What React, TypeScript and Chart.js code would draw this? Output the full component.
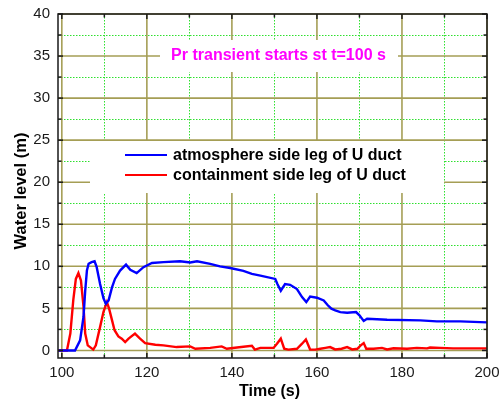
import React, { useEffect, useRef } from "react";
import { Chart, registerables } from "chart.js";

Chart.register(...registerables);

// atmosphere side leg of U duct (blue)
const atmTime = [99.2, 103.1, 104.3, 105.1, 105.5, 105.9, 106.3, 107.0, 107.7, 108.2, 109.0, 109.8, 110.35, 111.0, 111.8, 112.5, 113.7, 115.1, 116.1, 117.6, 119.2, 121.2, 123.9, 127.8, 130.2, 131.8, 134.9, 137.2, 139.6, 142.7, 144.7, 146.7, 150.2, 150.7, 151.5, 152.5, 153.7, 155.3, 156.5, 157.5, 158.4, 160.0, 161.6, 162.5, 163.4, 164.3, 165.5, 167.1, 169.2, 170.0, 171.0, 171.8, 176.5, 184.3, 188.2, 193.7, 200.0];
const atmLevel = [0, 0, 1.2, 4.0, 7.1, 9.5, 10.3, 10.5, 10.6, 9.9, 7.9, 6.2, 5.55, 5.95, 7.5, 8.5, 9.5, 10.2, 9.6, 9.2, 9.9, 10.4, 10.5, 10.6, 10.45, 10.6, 10.3, 10.0, 9.8, 9.45, 9.1, 8.9, 8.5, 7.9, 7.1, 7.9, 7.8, 7.3, 6.35, 5.75, 6.4, 6.27, 5.95, 5.4, 4.96, 4.76, 4.56, 4.48, 4.56, 4.17, 3.5, 3.77, 3.65, 3.57, 3.45, 3.45, 3.33];

// containment side leg of U duct (red)
const contTime = [99.2, 101.2, 102.0, 102.7, 103.3, 103.9, 104.5, 105.1, 105.5, 106.1, 107.4, 108.0, 109.0, 109.8, 110.6, 111.1, 111.8, 112.4, 113.3, 114.1, 114.9, 115.7, 117.2, 118.4, 119.6, 122.0, 123.9, 127.0, 130.2, 131.4, 134.9, 137.6, 138.8, 142.2, 144.7, 145.4, 146.7, 149.8, 150.6, 151.5, 152.3, 153.3, 155.3, 156.5, 157.4, 158.4, 159.6, 160.8, 162.0, 163.1, 164.3, 165.8, 167.1, 168.3, 169.5, 170.3, 171.0, 171.6, 173.3, 175.3, 176.5, 178.0, 181.2, 183.5, 185.9, 186.6, 189.0, 192.0, 196.0, 200.0];
const contLevel = [0, 0, 2.0, 6.0, 8.5, 9.2, 8.3, 5.2, 2.0, 0.6, 0.1, 0.6, 2.8, 4.6, 5.75, 5.0, 3.6, 2.4, 1.67, 1.4, 1.0, 1.4, 2.0, 1.4, 0.87, 0.68, 0.6, 0.4, 0.48, 0.2, 0.3, 0.48, 0.2, 0.4, 0.55, 0.1, 0.3, 0.3, 0.8, 1.4, 0.2, 0.1, 0.2, 0.8, 1.3, 0.1, 0.1, 0.2, 0.3, 0.4, 0.12, 0.2, 0.4, 0.12, 0.2, 0.6, 0.87, 0.2, 0.2, 0.3, 0.12, 0.25, 0.2, 0.3, 0.25, 0.35, 0.3, 0.25, 0.25, 0.25];

const xTickValues = [100, 110, 120, 130, 140, 150, 160, 170, 180, 190, 200];
const yTickValues = [0, 2.5, 5, 7.5, 10, 12.5, 15, 17.5, 20, 22.5, 25, 27.5, 30, 32.5, 35, 37.5, 40];

const seriesLabels = ["atmosphere side leg of U duct", "containment side leg of U duct"];
const seriesColors = ["#0000ff", "#ff0000"];
const annotationText = "Pr transient starts st t=100 s";
const xTitle = "Time (s)";
const yTitle = "Water level (m)";

const FONT = "'Liberation Sans', Arial, sans-serif";

const decorPlugin = {
  id: "decor",
  beforeDatasetsDraw(chart: any) {
    const { ctx, chartArea: a, scales } = chart;
    const x = scales.x, y = scales.y;
    ctx.save();
    // minor dotted grid
    ctx.strokeStyle = "#2ee02e";
    ctx.lineWidth = 1;
    ctx.setLineDash([1.5, 1.5]);
    x.ticks.forEach((t: any) => {
      if (t.value % 20 !== 0) {
        const px = Math.round(x.getPixelForValue(t.value)) + 0.5;
        ctx.beginPath(); ctx.moveTo(px, a.top); ctx.lineTo(px, a.bottom); ctx.stroke();
      }
    });
    y.ticks.forEach((t: any) => {
      if (t.value % 5 !== 0) {
        const py = Math.round(y.getPixelForValue(t.value)) + 0.5;
        ctx.beginPath(); ctx.moveTo(a.left, py); ctx.lineTo(a.right, py); ctx.stroke();
      }
    });
    // major olive grid
    ctx.setLineDash([]);
    ctx.strokeStyle = "#a59e55";
    ctx.lineWidth = 1.6;
    x.ticks.forEach((t: any) => {
      if (t.value % 20 === 0) {
        const px = x.getPixelForValue(t.value);
        ctx.beginPath(); ctx.moveTo(px, a.top); ctx.lineTo(px, a.bottom); ctx.stroke();
      }
    });
    y.ticks.forEach((t: any) => {
      if (t.value % 5 === 0) {
        const py = y.getPixelForValue(t.value);
        ctx.beginPath(); ctx.moveTo(a.left, py); ctx.lineTo(a.right, py); ctx.stroke();
      }
    });
    // white boxes behind annotation and legend
    ctx.fillStyle = "#ffffff";
    ctx.fillRect(a.left + 102, a.top + 26, 238, 32);
    ctx.fillRect(a.left + 32, a.top + 127, 354, 52);
    ctx.restore();
  },
  afterDatasetsDraw(chart: any) {
    const { ctx, chartArea: a, scales } = chart;
    const x = scales.x, y = scales.y;
    ctx.save();
    // annotation
    ctx.fillStyle = "#ff00ff";
    ctx.font = `bold 16px ${FONT}`;
    ctx.textAlign = "center";
    ctx.textBaseline = "middle";
    ctx.fillText(annotationText, a.left + 220.5, a.top + 42);
    // legend
    ctx.textAlign = "left";
    ctx.font = `bold 16px ${FONT}`;
    chart.data.datasets.forEach((ds: any, i: number) => {
      const ly = a.top + 141 + i * 20;
      ctx.strokeStyle = ds.borderColor;
      ctx.lineWidth = 2;
      ctx.beginPath(); ctx.moveTo(a.left + 67, ly); ctx.lineTo(a.left + 109, ly); ctx.stroke();
      ctx.fillStyle = "#000";
      ctx.fillText(ds.label, a.left + 115, ly + 1);
    });
    // frame
    ctx.strokeStyle = "#1a1a1a";
    ctx.lineWidth = 1.5;
    ctx.strokeRect(a.left, a.top, a.right - a.left, a.bottom - a.top);
    // inward ticks
    ctx.lineWidth = 1.5;
    x.ticks.forEach((t: any) => {
      const px = x.getPixelForValue(t.value);
      const len = t.value % 20 === 0 ? 5 : 3.5;
      ctx.beginPath(); ctx.moveTo(px, a.bottom); ctx.lineTo(px, a.bottom - len); ctx.stroke();
      ctx.beginPath(); ctx.moveTo(px, a.top); ctx.lineTo(px, a.top + len); ctx.stroke();
    });
    y.ticks.forEach((t: any) => {
      const py = y.getPixelForValue(t.value);
      const len = t.value % 5 === 0 ? 5 : 3.5;
      ctx.beginPath(); ctx.moveTo(a.left, py); ctx.lineTo(a.left + len, py); ctx.stroke();
      ctx.beginPath(); ctx.moveTo(a.right, py); ctx.lineTo(a.right - len, py); ctx.stroke();
    });
    // axis titles
    ctx.fillStyle = "#000";
    ctx.textAlign = "center";
    ctx.textBaseline = "middle";
    ctx.font = `bold 16px ${FONT}`;
    ctx.fillText(xTitle, (a.left + a.right) / 2 - 3, 392);
    ctx.translate(21, 191);
    ctx.rotate(-Math.PI / 2);
    ctx.font = `bold 16.5px ${FONT}`;
    ctx.fillText(yTitle, 0, 0);
    ctx.restore();
  },
};

export default function App() {
  const ref = useRef<HTMLCanvasElement>(null);
  useEffect(() => {
    if (!ref.current) return;
    const chart = new Chart(ref.current, {
      type: "line",
      data: {
        datasets: [
          {
            label: seriesLabels[0],
            data: atmTime.map((t, i) => ({ x: t, y: atmLevel[i] })),
            borderColor: seriesColors[0],
            borderWidth: 2.4,
            pointRadius: 0,
            fill: false,
          },
          {
            label: seriesLabels[1],
            data: contTime.map((t, i) => ({ x: t, y: contLevel[i] })),
            borderColor: seriesColors[1],
            borderWidth: 2.4,
            pointRadius: 0,
            fill: false,
          },
        ],
      },
      options: {
        animation: false,
        responsive: false,
        devicePixelRatio: 1,
        layout: { padding: { top: 14, right: 13, left: 0, bottom: 0 } },
        plugins: { legend: { display: false }, tooltip: { enabled: false } },
        scales: {
          x: {
            type: "linear",
            min: 99.1,
            max: 200,
            afterBuildTicks: (s: any) => { s.ticks = xTickValues.map((v) => ({ value: v })); },
            afterFit: (s: any) => { s.height = 44; s.paddingLeft = 0; s.paddingRight = 0; },
            grid: { display: false, drawTicks: false },
            border: { display: false },
            ticks: {
              autoSkip: false,
              maxRotation: 0,
              padding: 6,
              color: "#1a1a1a",
              font: { family: FONT, size: 15 },
              callback: (v: any) => (Number(v) % 20 === 0 ? String(v) : ""),
            },
            title: { display: false },
          },
          y: {
            type: "linear",
            min: -0.9,
            max: 40,
            afterBuildTicks: (s: any) => { s.ticks = yTickValues.map((v) => ({ value: v })); },
            afterFit: (s: any) => { s.width = 58; s.paddingTop = 0; s.paddingBottom = 0; },
            grid: { display: false, drawTicks: false },
            border: { display: false },
            ticks: {
              autoSkip: false,
              padding: 8,
              color: "#1a1a1a",
              font: { family: FONT, size: 15 },
              callback: (v: any) => (Number(v) % 5 === 0 ? String(v) : ""),
            },
            title: { display: false },
          },
        },
      },
      plugins: [decorPlugin],
    } as any);
    return () => chart.destroy();
  }, []);
  return (
    <div style={{ position: "absolute", left: 0, top: 0, width: 500, height: 402, background: "#fff" }}>
      <canvas ref={ref} width={500} height={402} />
    </div>
  );
}
